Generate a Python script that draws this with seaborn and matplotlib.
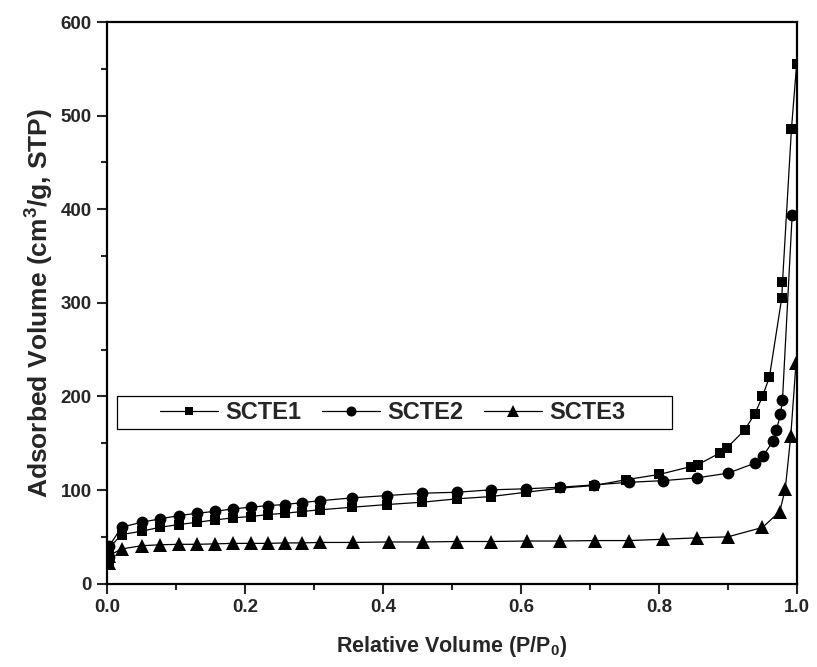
import matplotlib
matplotlib.use("Agg")
import matplotlib.pyplot as plt
import seaborn as sns
import pandas as pd
import numpy as np
from matplotlib.ticker import MultipleLocator
from matplotlib.patches import Rectangle

# ---- data ----
scte1_x = [0.003, 0.003, 0.003, 0.021, 0.050, 0.077, 0.104, 0.131, 0.157, 0.183, 0.208, 0.234,
           0.258, 0.282, 0.308, 0.355, 0.406, 0.457, 0.507, 0.556, 0.607, 0.657, 0.706, 0.752,
           0.800, 0.846, 0.856, 0.888, 0.898, 0.924, 0.939, 0.950, 0.960, 0.978, 0.979, 0.992, 0.9995]
scte1_y = [21, 30, 38, 52.4, 56, 60.2, 63.1, 65.6, 68.1, 70.3, 71.7, 73.8,
           75.2, 77, 78.8, 81.6, 84.5, 87, 90.6, 93, 97.6, 102, 104.8, 111,
           116.6, 125, 127, 139.4, 144.7, 164, 181.5, 200, 220.6, 305.6, 322, 486, 555]

scte2_x = [0.003, 0.003, 0.021, 0.050, 0.077, 0.104, 0.131, 0.157, 0.183, 0.208, 0.234, 0.258,
           0.282, 0.308, 0.355, 0.406, 0.457, 0.507, 0.556, 0.607, 0.657, 0.706, 0.757, 0.806,
           0.855, 0.900, 0.939, 0.951, 0.965, 0.970, 0.976, 0.979, 0.993]
scte2_y = [28, 40, 60.2, 65.6, 69.2, 72.7, 75.2, 77.3, 79.9, 81.6, 83.4, 84.5,
           86.5, 88.5, 91.6, 94.1, 96.6, 97.6, 100.2, 101.3, 103, 105.5, 108.3, 110,
           113, 118, 128.7, 136.5, 151.9, 163.6, 180.7, 196.5, 393.6]

scte3_x = [0.003, 0.003, 0.021, 0.050, 0.077, 0.104, 0.131, 0.157, 0.183, 0.208, 0.234, 0.258,
           0.282, 0.308, 0.357, 0.408, 0.458, 0.507, 0.557, 0.608, 0.657, 0.707, 0.757, 0.806,
           0.855, 0.900, 0.950, 0.975, 0.983, 0.991, 0.9986]
scte3_y = [22, 30, 37, 40.5, 41.5, 42, 42, 42.5, 43, 43, 43, 43.5,
           43.5, 44, 44, 44.5, 44.5, 45, 45, 45.5, 45.5, 46, 46, 47.4,
           48.9, 50, 60, 77, 101, 158, 235.6]

series_names = ["SCTE1", "SCTE2", "SCTE3"]
x_ticks = [0.0, 0.2, 0.4, 0.6, 0.8, 1.0]
y_ticks = [0, 100, 200, 300, 400, 500, 600]

frames = []
for name, xs, ys in zip(series_names, [scte1_x, scte2_x, scte3_x], [scte1_y, scte2_y, scte3_y]):
    frames.append(pd.DataFrame({"x": xs, "y": ys, "series": name}))
df = pd.concat(frames, ignore_index=True)

# ---- style ----
sns.set_style("ticks")
plt.rcParams["font.family"] = ["Liberation Sans", "DejaVu Sans"]
plt.rcParams["font.weight"] = "bold"
plt.rcParams["mathtext.fontset"] = "custom"
plt.rcParams["mathtext.rm"] = "Liberation Sans:bold"
plt.rcParams["mathtext.bf"] = "Liberation Sans:bold"
plt.rcParams["mathtext.default"] = "bf"

fig = plt.figure(figsize=(8.17, 6.67), dpi=100)
ax = fig.add_axes([0.131, 0.125, 0.8445, 0.842])

markers = {"SCTE1": "s", "SCTE2": "o", "SCTE3": "^"}
sizes = {"SCTE1": 7.5, "SCTE2": 8.5, "SCTE3": 10}
for name in ["SCTE3", "SCTE2", "SCTE1"]:
    sub = df[df.series == name]
    sns.lineplot(data=sub, x="x", y="y", sort=False, estimator=None, ax=ax,
                 color="black", lw=0.9, marker=markers[name], markersize=sizes[name],
                 markeredgewidth=0, label=name)

ax.set_xlim(0, 1.0)
ax.set_ylim(0, 600)
ax.set_xticks(x_ticks)
ax.set_yticks(y_ticks)
ax.xaxis.set_minor_locator(MultipleLocator(0.1))
ax.yaxis.set_minor_locator(MultipleLocator(50))
ax.set_xticklabels([f"{v:.1f}" for v in x_ticks])
ax.set_yticklabels([str(v) for v in y_ticks])
ax.tick_params(which="major", direction="out", length=7, width=1.5, labelsize=13.5, pad=4)
ax.tick_params(which="minor", direction="out", length=4, width=1.5)
for s in ax.spines.values():
    s.set_linewidth(1.6)
    s.set_visible(True)
    s.set_color("black")

ax.set_xlabel("Relative Volume (P/P$_0$)", fontsize=15.5, fontweight="bold", labelpad=13)
ax.set_ylabel("Adsorbed Volume (cm$^3$/g, STP)", fontsize=19, fontweight="bold", labelpad=3)

handles, labels = ax.get_legend_handles_labels()
order = [labels.index(n) for n in series_names]
leg = ax.legend([handles[i] for i in order], [labels[i] for i in order],
                loc="center", bbox_to_anchor=(0.414, 0.305),
                ncol=3, fontsize=17, markerscale=0.85, frameon=False,
                borderpad=0.1, handlelength=2.45, handletextpad=0.3,
                columnspacing=0.9, borderaxespad=0)
for t in leg.get_texts():
    t.set_fontweight("bold")
ax.add_patch(Rectangle((0.0145, 0.2757), 0.804, 0.0589, transform=ax.transAxes,
                       fill=False, edgecolor="black", lw=0.9, zorder=5))

fig.savefig("out.png", dpi=100)
